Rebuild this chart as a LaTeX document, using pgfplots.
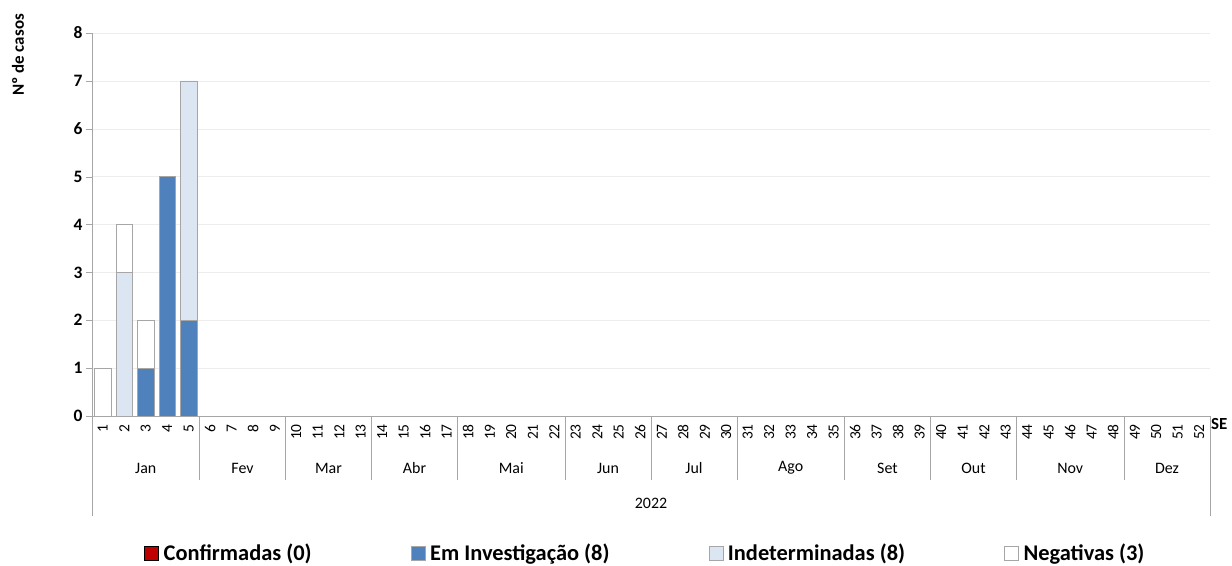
\documentclass[border=0pt]{standalone}
\usepackage{pgfplots}
\pgfplotsset{compat=1.18}
\usepackage{pgfplotstable}
\usepackage{fontspec}
\setmainfont{Carlito}

\definecolor{conf}{HTML}{C00000}
\definecolor{inv}{HTML}{4F81BD}
\definecolor{ind}{HTML}{DCE6F2}
\definecolor{axisgray}{HTML}{A6A6A6}

% casos por semana epidemiologica (SE)
\pgfplotstableread{
se conf inv ind neg
1  0 0 0 1
2  0 0 3 1
3  0 1 0 1
4  0 5 0 0
5  0 2 5 0
}\casos

\pgfplotsset{
  sq/.style={legend image code/.code={\draw[##1] (0bp,-7bp) rectangle (14bp,7bp);}},
}

\begin{document}
\begin{tikzpicture}
\begin{axis}[
  scale only axis, width=1118bp, height=383bp,
  ybar stacked, bar width=0.76,
  xmin=0.5, xmax=52.5, ymin=0, ymax=8,
  xtick={1,...,52}, ytick={0,...,8},
  axis x line*=bottom, axis y line*=left,
  axis line style={axisgray},
  ymajorgrids, grid style={black!7},
  x tick style={draw=none},
  y tick style={axisgray}, tick align=outside, major tick length=6bp,
  /pgf/number format/assume math mode=true,
  x tick label style={font=\fontsize{15.5}{15.5}\selectfont, rotate=90, anchor=east, inner sep=2bp},
  y tick label style={font=\fontsize{17.5}{17.5}\selectfont\bfseries},
  clip=false,
  legend columns=4,
  legend style={at={(0.495,-0.3585)}, anchor=center, draw=none, fill=none,
    inner sep=0pt, font=\fontsize{22.5}{22.5}\selectfont\bfseries,
    /tikz/every odd column/.append style={column sep=3bp},
    /tikz/every even column/.append style={column sep=97bp}},
]
\addplot[fill=conf, draw=none, sq] table[x=se, y=conf]{\casos};
\addplot[fill=inv, draw=gray!70, sq] table[x=se, y=inv]{\casos};
\addplot[fill=ind, draw=gray!70, sq] table[x=se, y=ind]{\casos};
\addplot[fill=white, draw=gray!70, sq] table[x=se, y=neg]{\casos};
\legend{Confirmadas (0), Em Investigação (8), Indeterminadas (8), Negativas (3)}

\pgfplotsinvokeforeach{5.5,9.5,13.5,17.5,22.5,26.5,30.5,35.5,39.5,43.5,48.5}{
  \draw[axisgray] (axis cs:#1,0) -- ([yshift=-64bp]axis cs:#1,0);
}
\draw[axisgray] (axis cs:0.5,0) -- ([yshift=-100bp]axis cs:0.5,0);
\draw[axisgray] (axis cs:52.5,0) -- ([yshift=-100bp]axis cs:52.5,0);

\node[font=\fontsize{16}{16}\selectfont] at ([yshift=-52bp]axis cs:3,0) {Jan};
\node[font=\fontsize{16}{16}\selectfont] at ([yshift=-52bp]axis cs:7.5,0) {Fev};
\node[font=\fontsize{16}{16}\selectfont] at ([yshift=-52bp]axis cs:11.5,0) {Mar};
\node[font=\fontsize{16}{16}\selectfont] at ([yshift=-52bp]axis cs:15.5,0) {Abr};
\node[font=\fontsize{16}{16}\selectfont] at ([yshift=-52bp]axis cs:20,0) {Mai};
\node[font=\fontsize{16}{16}\selectfont] at ([yshift=-52bp]axis cs:24.5,0) {Jun};
\node[font=\fontsize{16}{16}\selectfont] at ([yshift=-52bp]axis cs:28.5,0) {Jul};
\node[font=\fontsize{16}{16}\selectfont] at ([yshift=-52bp]axis cs:33,0) {Ago};
\node[font=\fontsize{16}{16}\selectfont] at ([yshift=-52bp]axis cs:37.5,0) {Set};
\node[font=\fontsize{16}{16}\selectfont] at ([yshift=-52bp]axis cs:41.5,0) {Out};
\node[font=\fontsize{16}{16}\selectfont] at ([yshift=-52bp]axis cs:46,0) {Nov};
\node[font=\fontsize{16}{16}\selectfont] at ([yshift=-52bp]axis cs:50.5,0) {Dez};
\node[font=\fontsize{16}{16}\selectfont] at ([yshift=-87bp]axis cs:26.5,0) {2022};
\node[font=\fontsize{17}{17}\selectfont\bfseries, anchor=west, inner sep=1bp] at ([yshift=-8bp]axis cs:52.5,0) {SE};
\node[rotate=90, font=\fontsize{17}{17}\selectfont\bfseries] at ([xshift=-74bp,yshift=-22bp]rel axis cs:0,1) {Nº de casos};
\end{axis}
\pgfresetboundingbox
\path (-92bp,-150bp) rectangle (1140bp,416bp);
\end{tikzpicture}
\end{document}
